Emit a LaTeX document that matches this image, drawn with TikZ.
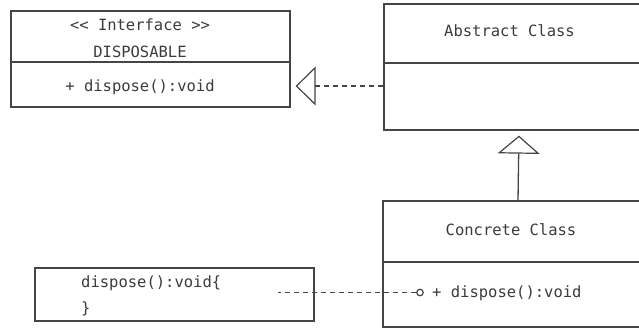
\documentclass[tikz,border=0pt]{standalone}
\usepackage{fontspec}
\setmonofont{DejaVu Sans Mono}
\usetikzlibrary{arrows.meta}
\definecolor{ink}{HTML}{454545}
\definecolor{txt}{HTML}{3C3C3C}
\tikzset{
  part/.style={draw=ink, line width=1.3pt, rectangle, inner sep=0pt},
  lbl/.style={font=\ttfamily\fontsize{15.5}{18}\selectfont, text=txt, inner sep=0pt},
  realize/.style={draw=ink, line width=1.3pt, dash pattern=on 5pt off 4pt,
    -{Triangle[open, length=20pt, width=39pt, line width=1.2pt]}},
  inherit/.style={draw=ink, line width=1.3pt,
    -{Triangle[open, length=18pt, width=42pt, line width=1.2pt]}},
  wire/.style={draw=ink, line width=1.3pt, dash pattern=on 5pt off 4pt},
}
\begin{document}
\begin{tikzpicture}[x=1pt, y=-1pt]
  \path[fill=white] (0,0) rectangle (639,329);
  \useasboundingbox (0,0) rectangle (639,329);
  \clip (0,0) rectangle (639,329);

  % interface DISPOSABLE
  \node[part, minimum width=279pt, minimum height=51pt] (ihead) at (150.5,36.5) {};
  \node[part, minimum width=279pt, minimum height=45pt] (ibody) at (150.5,84.5) {};
  \node[lbl] (istereo) at (140,25) {<< Interface >>};
  \node[lbl] (iname) at (140,51.5) {DISPOSABLE};
  \node[lbl] (iop) at (140,87) {+ dispose():void};

  % abstract class (runs off the right edge)
  \node[part, minimum width=262pt, minimum height=59pt] (ahead) at (515,33.5) {};
  \node[part, minimum width=262pt, minimum height=67pt] (abody) at (515,96.5) {};
  \node[lbl] (aname) at (509.5,31) {Abstract Class};

  % concrete class (runs off the right edge)
  \node[part, minimum width=262pt, minimum height=61pt] (chead) at (514,231.5) {};
  \node[part, minimum width=262pt, minimum height=65pt] (cbody) at (514,294.5) {};
  \node[lbl] (cname) at (511,230) {Concrete Class};
  \node[lbl, anchor=west] (cop) at (432,293) {+ dispose():void};

  % implementation note
  \node[part, minimum width=279pt, minimum height=53pt] (note) at (174.5,294.5) {};
  \node[lbl, anchor=west] (nbody1) at (81,283) {dispose():void\{};
  \node[lbl, anchor=west] (nbody2) at (81,309) {\}};

  % provided-interface socket
  \node[draw=ink, line width=1.2pt, circle, minimum size=6.5pt, inner sep=0pt] (sock) at (420,292.5) {};
  \coordinate (wireend) at (278,292.5);

  % connectors
  \draw[realize, shorten >=5pt] (abody.west |- 0,86) -- (ibody.east |- 0,86);
  \draw[inherit, shorten >=5pt] ([xshift=4pt]chead.north) -- ([xshift=4pt]abody.south);
  \draw[wire] (sock.west) -- (wireend);
\end{tikzpicture}
\end{document}
